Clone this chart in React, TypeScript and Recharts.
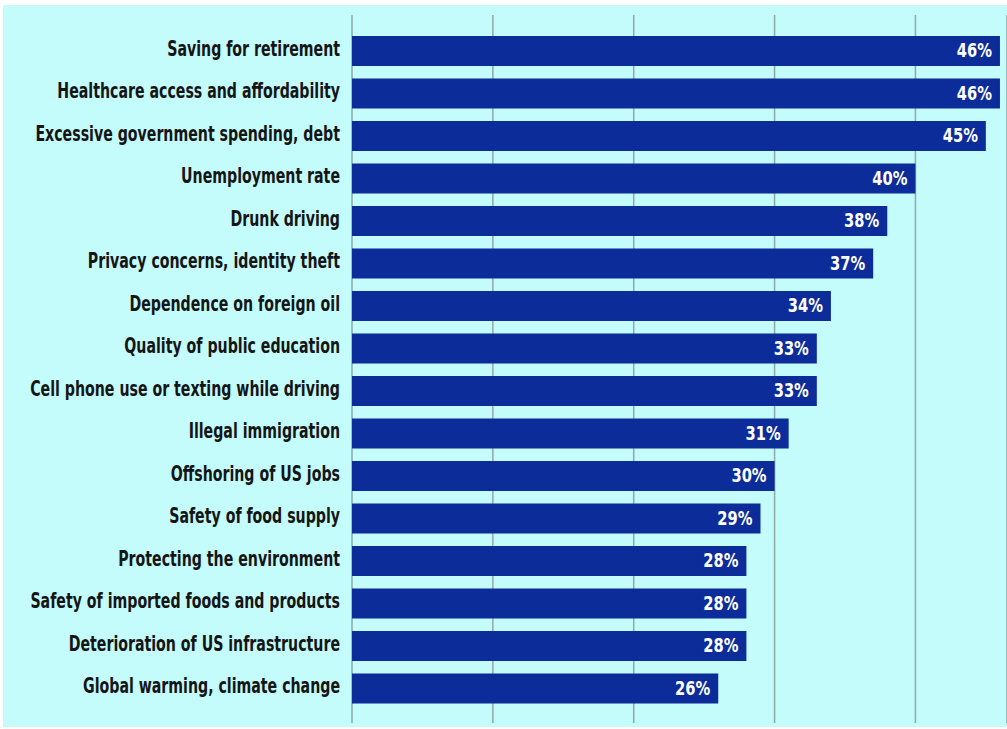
import React from "react";
import { BarChart, Bar, XAxis, YAxis, CartesianGrid, LabelList } from "recharts";

const categories = [
  "Saving for retirement",
  "Healthcare access and affordability",
  "Excessive government spending, debt",
  "Unemployment rate",
  "Drunk driving",
  "Privacy concerns, identity theft",
  "Dependence on foreign oil",
  "Quality of public education",
  "Cell phone use or texting while driving",
  "Illegal immigration",
  "Offshoring of US jobs",
  "Safety of food supply",
  "Protecting the environment",
  "Safety of imported foods and products",
  "Deterioration of US infrastructure",
  "Global warming, climate change",
];
const values = [46, 46, 45, 40, 38, 37, 34, 33, 33, 31, 30, 29, 28, 28, 28, 26];
const xTicks = [0, 10, 20, 30, 40];

const data = categories.map((name, i) => ({ name, value: values[i] }));

const FONT = "'DejaVu Sans Condensed', 'DejaVu Sans', sans-serif";

const CategoryTick = (props: any) => {
  const { x, y, payload } = props;
  return (
    <g transform={`translate(${x},${y})`}>
      <text
        transform="scale(0.75,1)"
        textAnchor="end"
        dy="0.22em"
        fill="#151515"
        fontSize={21}
        fontWeight={700}
        fontFamily={FONT}
      >
        {payload.value}
      </text>
    </g>
  );
};

const ValueLabel = (props: any) => {
  const { x, y, width, height, value } = props;
  const right = x + width - 8;
  const cy = y + height / 2;
  return (
    <g transform={`translate(${right},${cy})`}>
      <text
        transform="scale(0.86,1)"
        textAnchor="end"
        dy="0.33em"
        fill="#ffffff"
        fontSize={19}
        fontWeight={700}
        fontFamily={FONT}
      >
        {`${value}%`}
      </text>
    </g>
  );
};

export default function App() {
  return (
    <div style={{ position: "absolute", left: 0, top: 0, width: 1007, height: 729, background: "#ffffff" }}>
      <div style={{ position: "absolute", left: 3, top: 5, width: 1004, height: 722, background: "#c4fbfb" }}>
        <BarChart
          width={1004}
          height={722}
          data={data}
          layout="vertical"
          margin={{ top: 10, right: 0, bottom: 4, left: 0 }}
        >
          <CartesianGrid vertical={true} horizontal={false} stroke="#8fa9a9" strokeWidth={1.5} />
          <XAxis type="number" domain={[0, 46.5]} ticks={xTicks} hide allowDataOverflow />
          <YAxis
            type="category"
            dataKey="name"
            width={349}
            axisLine={false}
            tickLine={false}
            tickMargin={6}
            padding={{ top: 15, bottom: 13 }}
            tick={<CategoryTick />}
            interval={0}
          />
          <Bar dataKey="value" fill="#0c2c9a" barSize={30} isAnimationActive={false}>
            <LabelList dataKey="value" content={<ValueLabel />} />
          </Bar>
        </BarChart>
      </div>
    </div>
  );
}
